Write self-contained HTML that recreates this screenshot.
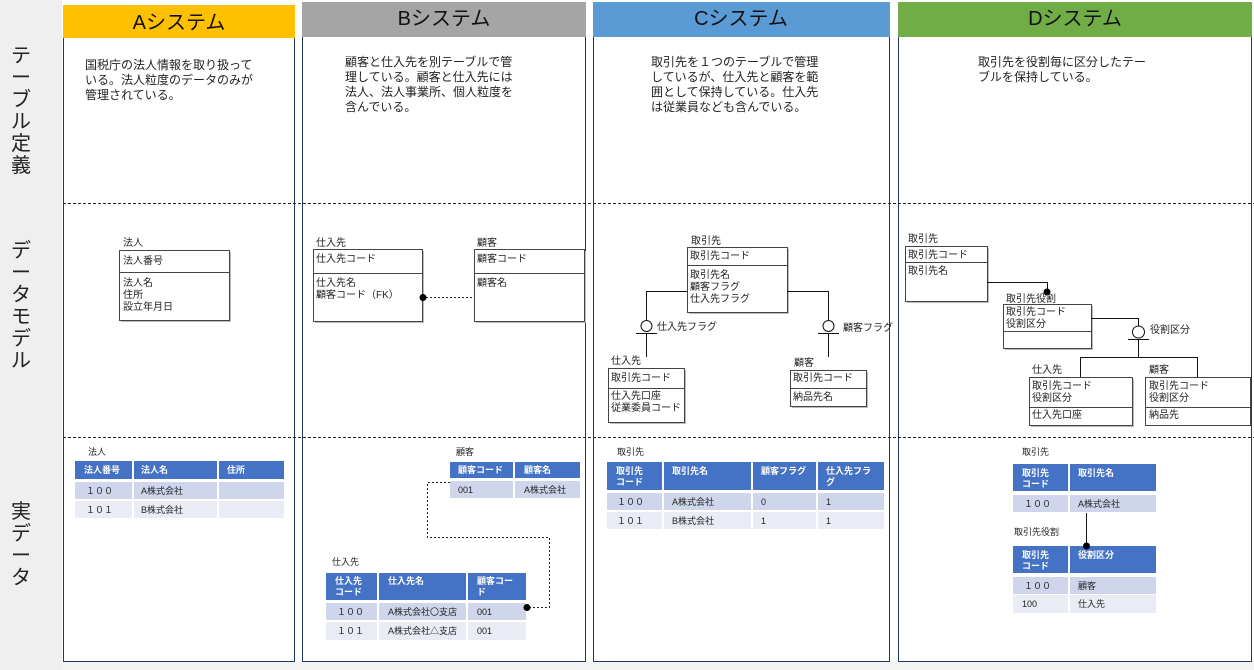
<!DOCTYPE html>
<html><head><meta charset="utf-8"><style>
html,body{margin:0;padding:0;background:#fff}
svg{display:block;font-family:"Liberation Sans","Noto Sans CJK JP",sans-serif}
.er{fill:#fff;stroke:#444;stroke-width:1}
.sh{fill:#bbb}
.t{font-size:10px;fill:#222}
.d{font-size:12px;fill:#222}
.th{font-size:9px;fill:#fff;font-weight:bold}
.td{font-size:9px;fill:#222}
.hd{fill:#4472c4}.r1{fill:#cfd5ea}.r2{fill:#e9ebf5}
</style></head><body>
<svg width="1254" height="670" viewBox="0 0 1254 670">
<rect x="0" y="0" width="1254" height="670" fill="#fff"/>
<rect x="0" y="0" width="62" height="670" fill="#efefef"/>
<rect x="62" y="662" width="1192" height="8" fill="#f3f3f3"/>
<!-- lanes -->
<g fill="#fff" stroke="#1f3864" stroke-width="1">
<rect x="63.5" y="5.5" width="231" height="656"/>
<rect x="302.5" y="2.5" width="283" height="659"/>
<rect x="593.5" y="2.5" width="296" height="659"/>
<rect x="898.5" y="2.5" width="353" height="659"/>
</g>
<rect x="63" y="5" width="232" height="33" fill="#ffc000"/>
<rect x="302" y="2" width="284" height="35" fill="#a5a5a5"/>
<rect x="593" y="2" width="297" height="35" fill="#5b9bd5"/>
<rect x="898" y="2" width="354" height="35" fill="#70ad47"/>
<g font-size="20" fill="#111" text-anchor="middle">
<text x="179" y="29">Aシステム</text>
<text x="444" y="25">Bシステム</text>
<text x="741" y="25">Cシステム</text>
<text x="1075" y="25">Dシステム</text>
</g>
<!-- left labels -->
<g font-size="20" fill="#222" text-anchor="middle">
<text x="21" y="62">テ</text><text x="21" y="84">ー</text><text x="21" y="106">ブ</text><text x="21" y="128">ル</text><text x="21" y="150">定</text><text x="21" y="172">義</text>
<text x="21" y="257">デ</text><text x="21" y="279">ー</text><text x="21" y="301">タ</text><text x="21" y="323">モ</text><text x="21" y="345">デ</text><text x="21" y="367">ル</text>
<text x="21" y="518">実</text><text x="21" y="540">デ</text><text x="21" y="562">ー</text><text x="21" y="584">タ</text>
</g>
<g stroke="#222" stroke-dasharray="3,2" stroke-width="1">
<line x1="63" y1="203.5" x2="1254" y2="203.5"/>
<line x1="63" y1="437.5" x2="1254" y2="437.5"/>
</g>
<!-- descriptions -->
<g class="d">
<text x="85" y="69">国税庁の法人情報を取り扱って</text>
<text x="85" y="84">いる。法人粒度のデータのみが</text>
<text x="85" y="99">管理されている。</text>
<text x="345" y="66">顧客と仕入先を別テーブルで管</text>
<text x="345" y="81">理している。顧客と仕入先には</text>
<text x="345" y="96">法人、法人事業所、個人粒度を</text>
<text x="345" y="111">含んでいる。</text>
<text x="651" y="66">取引先を１つのテーブルで管理</text>
<text x="651" y="81">しているが、仕入先と顧客を範</text>
<text x="651" y="96">囲として保持している。仕入先</text>
<text x="651" y="111">は従業員なども含んでいる。</text>
<text x="978" y="66">取引先を役割毎に区分したテー</text>
<text x="978" y="81">ブルを保持している。</text>
</g>
<!-- ER A -->
<rect class="sh" x="121" y="252" width="110" height="70"/>
<rect class="er" x="119.5" y="250.5" width="110" height="70"/>
<line x1="119" y1="272.5" x2="230" y2="272.5" stroke="#444"/>
<g class="t"><text x="123" y="246">法人</text><text x="123" y="264">法人番号</text><text x="123" y="286">法人名</text><text x="123" y="298">住所</text><text x="123" y="310">設立年月日</text></g>
<!-- ER B -->
<rect class="sh" x="315" y="251" width="109" height="72"/>
<rect class="er" x="313.5" y="249.5" width="109" height="72"/>
<line x1="313" y1="273.5" x2="423" y2="273.5" stroke="#444"/>
<rect class="sh" x="476" y="251" width="110" height="72"/>
<rect class="er" x="474.5" y="249.5" width="110" height="72"/>
<line x1="474" y1="273.5" x2="585" y2="273.5" stroke="#444"/>
<line x1="422" y1="297.5" x2="474" y2="297.5" stroke="#222" stroke-dasharray="2,2"/>
<circle cx="423" cy="297.5" r="3.5" fill="#000"/>
<g class="t"><text x="316" y="246">仕入先</text><text x="316" y="262">仕入先コード</text><text x="316" y="286">仕入先名</text><text x="316" y="298">顧客コード（FK）</text>
<text x="477" y="246">顧客</text><text x="477" y="262">顧客コード</text><text x="477" y="286">顧客名</text></g>
<!-- ER C -->
<rect class="sh" x="689" y="249" width="100" height="65"/>
<rect class="er" x="687.5" y="247.5" width="100" height="65"/>
<line x1="687" y1="265.5" x2="788" y2="265.5" stroke="#444"/>
<g stroke="#111" fill="none">
<polyline points="687,291.5 646.5,291.5 646.5,320"/><circle cx="646.5" cy="326" r="5.5" fill="#fff"/><line x1="636" y1="333.5" x2="657" y2="333.5"/><line x1="646.5" y1="333" x2="646.5" y2="357"/>
<polyline points="787,291.5 828.5,291.5 828.5,320"/><circle cx="828.5" cy="326" r="5.5" fill="#fff"/><line x1="818" y1="333.5" x2="839" y2="333.5"/><line x1="828.5" y1="333" x2="828.5" y2="357"/>
</g>
<rect class="sh" x="610" y="370" width="76" height="54"/>
<rect class="er" x="608.5" y="368.5" width="76" height="54"/>
<line x1="608" y1="388.5" x2="685" y2="388.5" stroke="#444"/>
<rect class="sh" x="792" y="372" width="76" height="36"/>
<rect class="er" x="790.5" y="370.5" width="76" height="36"/>
<line x1="790" y1="388.5" x2="867" y2="388.5" stroke="#444"/>
<g class="t"><text x="691" y="244">取引先</text><text x="690" y="259">取引先コード</text><text x="690" y="278">取引先名</text><text x="690" y="290">顧客フラグ</text><text x="690" y="302">仕入先フラグ</text>
<text x="657" y="330">仕入先フラグ</text><text x="843" y="331">顧客フラグ</text>
<text x="611" y="364">仕入先</text><text x="611" y="381">取引先コード</text><text x="611" y="399">仕入先口座</text><text x="611" y="411">従業委員コード</text>
<text x="794" y="366">顧客</text><text x="793" y="381">取引先コード</text><text x="793" y="400">納品先名</text></g>
<!-- ER D -->
<rect class="sh" x="907" y="248" width="82" height="55"/>
<rect class="er" x="905.5" y="246.5" width="82" height="55"/>
<line x1="905" y1="262.5" x2="988" y2="262.5" stroke="#444"/>
<rect class="sh" x="1005" y="306" width="88" height="44"/>
<rect class="er" x="1003.5" y="304.5" width="88" height="44"/>
<line x1="1003" y1="331.5" x2="1092" y2="331.5" stroke="#444"/>
<rect class="sh" x="1031" y="379" width="103" height="48"/>
<rect class="er" x="1029.5" y="377.5" width="103" height="48"/>
<line x1="1029" y1="407.5" x2="1133" y2="407.5" stroke="#444"/>
<rect class="er" x="1145.5" y="377.5" width="105" height="48"/>
<line x1="1145" y1="407.5" x2="1251" y2="407.5" stroke="#444"/>
<g stroke="#111" fill="none">
<polyline points="987,282.5 1047.5,282.5 1047.5,292"/>
<polyline points="1091,318.5 1138.5,318.5 1138.5,326"/><circle cx="1138.5" cy="332" r="6" fill="#fff"/><line x1="1128" y1="339.5" x2="1149" y2="339.5"/>
<line x1="1138.5" y1="339" x2="1138.5" y2="357"/>
<polyline points="1080.5,377 1080.5,357.5 1197.5,357.5 1197.5,377"/>
</g>
<circle cx="1047" cy="292" r="3.5" fill="#000"/>
<g class="t"><text x="908" y="242">取引先</text><text x="908" y="258">取引先コード</text><text x="908" y="274">取引先名</text>
<text x="1006" y="302">取引先役割</text><text x="1006" y="315">取引先コード</text><text x="1006" y="327">役割区分</text>
<text x="1150" y="333">役割区分</text>
<text x="1032" y="373">仕入先</text><text x="1032" y="389">取引先コード</text><text x="1032" y="401">役割区分</text><text x="1032" y="418">仕入先口座</text>
<text x="1149" y="373">顧客</text><text x="1149" y="389">取引先コード</text><text x="1149" y="401">役割区分</text><text x="1149" y="418">納品先</text></g>
<!-- Table A -->
<text class="td" x="88" y="455">法人</text>
<rect class="hd" x="75" y="461" width="57" height="18"/><rect class="hd" x="134" y="461" width="83" height="18"/><rect class="hd" x="219" y="461" width="65" height="18"/>
<rect class="r1" x="75" y="482" width="57" height="17"/><rect class="r1" x="134" y="482" width="83" height="17"/><rect class="r1" x="219" y="482" width="65" height="17"/>
<rect class="r2" x="75" y="501" width="57" height="17"/><rect class="r2" x="134" y="501" width="83" height="17"/><rect class="r2" x="219" y="501" width="65" height="17"/>
<g class="th"><text x="84" y="473">法人番号</text><text x="141" y="473">法人名</text><text x="227" y="473">住所</text></g>
<g class="td"><text x="86" y="494">１００</text><text x="141" y="494">A株式会社</text><text x="86" y="513">１０１</text><text x="141" y="513">B株式会社</text></g>
<!-- Table B -->
<text class="td" x="456" y="455">顧客</text>
<rect class="hd" x="450" y="462" width="63" height="16"/><rect class="hd" x="515" y="462" width="65" height="16"/>
<rect class="r1" x="450" y="481" width="63" height="17"/><rect class="r1" x="515" y="481" width="65" height="17"/>
<g class="th"><text x="458" y="473">顧客コード</text><text x="524" y="473">顧客名</text></g>
<g class="td"><text x="458" y="493">001</text><text x="524" y="493">A株式会社</text></g>
<text class="td" x="332" y="565">仕入先</text>
<rect class="hd" x="326" y="573" width="51" height="27"/><rect class="hd" x="379" y="573" width="87" height="27"/><rect class="hd" x="468" y="573" width="58" height="27"/>
<rect class="r1" x="326" y="603" width="51" height="17"/><rect class="r1" x="379" y="603" width="87" height="17"/><rect class="r1" x="468" y="603" width="58" height="17"/>
<rect class="r2" x="326" y="622" width="51" height="18"/><rect class="r2" x="379" y="622" width="87" height="18"/><rect class="r2" x="468" y="622" width="58" height="18"/>
<g class="th"><text x="335" y="584">仕入先</text><text x="335" y="595">コード</text><text x="388" y="584">仕入先名</text><text x="477" y="584">顧客コー</text><text x="477" y="595">ド</text></g>
<g class="td"><text x="337" y="615">１００</text><text x="388" y="615">A株式会社〇支店</text><text x="477" y="615">001</text>
<text x="337" y="634">１０１</text><text x="388" y="634">A株式会社△支店</text><text x="477" y="634">001</text></g>
<polyline points="450,482.5 427.5,482.5 427.5,537.5 549.5,537.5 549.5,607.5 527,607.5" fill="none" stroke="#222" stroke-dasharray="2,2"/>
<circle cx="527" cy="607.5" r="3.5" fill="#000"/>
<!-- Table C -->
<text class="td" x="617" y="455">取引先</text>
<rect class="hd" x="607" y="462" width="55" height="28"/><rect class="hd" x="664" y="462" width="87" height="28"/><rect class="hd" x="753" y="462" width="63" height="28"/><rect class="hd" x="818" y="462" width="66" height="28"/>
<rect class="r1" x="607" y="493" width="55" height="17"/><rect class="r1" x="664" y="493" width="87" height="17"/><rect class="r1" x="753" y="493" width="63" height="17"/><rect class="r1" x="818" y="493" width="66" height="17"/>
<rect class="r2" x="607" y="512" width="55" height="17"/><rect class="r2" x="664" y="512" width="87" height="17"/><rect class="r2" x="753" y="512" width="63" height="17"/><rect class="r2" x="818" y="512" width="66" height="17"/>
<g class="th"><text x="616" y="474">取引先</text><text x="616" y="485">コード</text><text x="672" y="474">取引先名</text><text x="761" y="474">顧客フラグ</text><text x="826" y="474">仕入先フラ</text><text x="826" y="485">グ</text></g>
<g class="td"><text x="617" y="505">１００</text><text x="672" y="505">A株式会社</text><text x="761" y="505">0</text><text x="826" y="505">1</text>
<text x="617" y="524">１０１</text><text x="672" y="524">B株式会社</text><text x="761" y="524">1</text><text x="826" y="524">1</text></g>
<!-- Table D -->
<text class="td" x="1022" y="455">取引先</text>
<rect class="hd" x="1013" y="464" width="55" height="27"/><rect class="hd" x="1070" y="464" width="86" height="27"/>
<rect class="r1" x="1013" y="495" width="55" height="17"/><rect class="r1" x="1070" y="495" width="86" height="17"/>
<g class="th"><text x="1022" y="476">取引先</text><text x="1022" y="487">コード</text><text x="1078" y="476">取引先名</text></g>
<g class="td"><text x="1024" y="507">１００</text><text x="1078" y="507">A株式会社</text></g>
<text class="td" x="1014" y="535">取引先役割</text>
<rect class="hd" x="1013" y="546" width="55" height="27"/><rect class="hd" x="1070" y="546" width="86" height="27"/>
<rect class="r1" x="1013" y="577" width="55" height="17"/><rect class="r1" x="1070" y="577" width="86" height="17"/>
<rect class="r2" x="1013" y="595" width="55" height="18"/><rect class="r2" x="1070" y="595" width="86" height="18"/>
<g class="th"><text x="1022" y="558">取引先</text><text x="1022" y="569">コード</text><text x="1078" y="558">役割区分</text></g>
<g class="td"><text x="1024" y="589">１００</text><text x="1078" y="589">顧客</text><text x="1022" y="607">100</text><text x="1078" y="607">仕入先</text></g>
<line x1="1086.5" y1="513" x2="1086.5" y2="546" stroke="#111"/>
<circle cx="1086.5" cy="546" r="3.5" fill="#000"/>
</svg>
</body></html>
